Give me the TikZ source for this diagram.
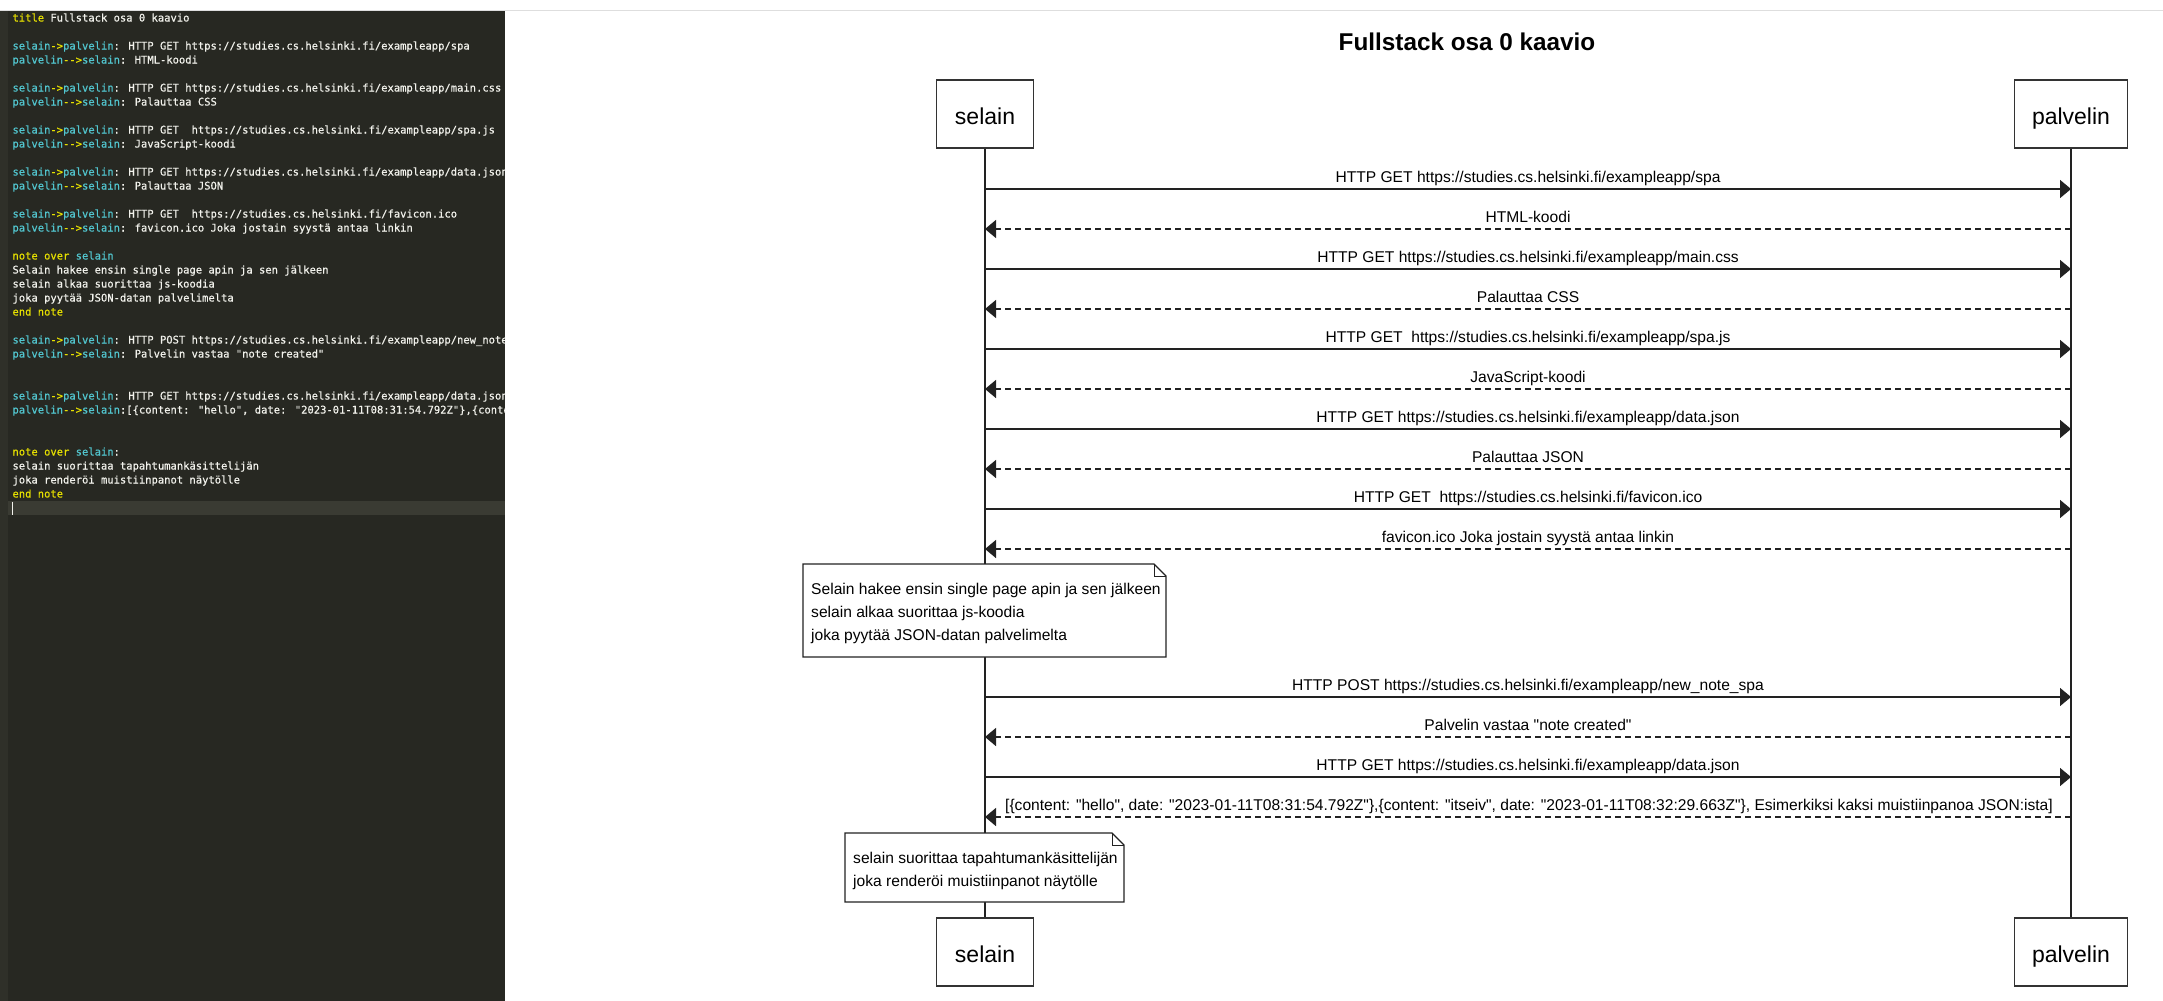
\documentclass[tikz,border=0pt]{standalone}
\usepackage{fontspec}
\setmainfont{Liberation Sans}[Ligatures=ResetAll]
\newfontfamily\diagfont{Liberation Sans}[Ligatures=ResetAll]
\newfontfamily\codefont{DejaVu Sans Mono}[Ligatures=ResetAll, FakeBold=0.5]
\usetikzlibrary{arrows.meta}
\definecolor{edbg}{HTML}{272822}
\definecolor{edgut}{HTML}{2F3029}
\definecolor{edcur}{HTML}{3A3B33}
\definecolor{cyel}{HTML}{E6E000}
\definecolor{ccya}{HTML}{52C6CF}
\definecolor{ctext}{HTML}{F2F2EC}
\definecolor{linec}{HTML}{222222}
\definecolor{boxc}{HTML}{333333}
\newcommand{\kwy}[1]{\textcolor{cyel}{#1}}
\newcommand{\acc}[1]{\textcolor{ccya}{#1}}
\newcommand{\dq}{\symbol{"22}}
\tikzset{
  codeln/.style={anchor=base west, inner sep=0pt, text=ctext, font=\codefont\fontsize{10.5}{12}\selectfont},
  actor/.style={draw=boxc, line width=1.6pt, fill=white, minimum width=97pt, minimum height=68pt, inner sep=0pt, text height=20pt, text depth=0pt, font=\diagfont\fontsize{23}{27}\selectfont},
  life/.style={draw=linec, line width=1.1pt},
  msg/.style={draw=linec, line width=1.5pt, -{Triangle[length=11pt,width=18pt]}},
  reply/.style={msg, dash pattern=on 6pt off 4pt},
  lbl/.style={anchor=base, inner sep=0pt, font=\diagfont\fontsize{15.6}{18}\selectfont},
  noteln/.style={anchor=base west, inner sep=0pt, font=\diagfont\fontsize{15.6}{18}\selectfont},
  notebox/.style={draw=linec, line width=1.2pt, fill=white},
}
\begin{document}
\begin{tikzpicture}[x=1pt,y=-1pt]
\useasboundingbox (0,0) rectangle (2163,1001);
\fill[white] (0,0) rectangle (2163,1001);
% editor panel
\fill[edbg] (0,11) rectangle (505,1001);
\fill[edgut] (0,11) rectangle (8,1001);
\fill[edcur] (8,501) rectangle (505,515);
\draw[ctext, line width=0.8pt] (12.5,501.5) -- (12.5,514.5);
\draw[black!13, line width=1pt] (0,10.5) -- (2163,10.5);
\begin{scope}
\clip (0,11) rectangle (505,1001);
\node[codeln] (code1) at (12.3,21.5) {\kwy{title} Fullstack osa 0 kaavio};
\node[codeln] (code3) at (12.3,49.5) {\acc{selain}\kwy{->}\acc{palvelin}: HTTP GET https://studies.cs.helsinki.fi/exampleapp/spa};
\node[codeln] (code4) at (12.3,63.5) {\acc{palvelin}\kwy{-{}-{}>}\acc{selain}: HTML-koodi};
\node[codeln] (code6) at (12.3,91.5) {\acc{selain}\kwy{->}\acc{palvelin}: HTTP GET https://studies.cs.helsinki.fi/exampleapp/main.css};
\node[codeln] (code7) at (12.3,105.5) {\acc{palvelin}\kwy{-{}-{}>}\acc{selain}: Palauttaa CSS};
\node[codeln] (code9) at (12.3,133.5) {\acc{selain}\kwy{->}\acc{palvelin}: HTTP GET\ \ https://studies.cs.helsinki.fi/exampleapp/spa.js};
\node[codeln] (code10) at (12.3,147.5) {\acc{palvelin}\kwy{-{}-{}>}\acc{selain}: JavaScript-koodi};
\node[codeln] (code12) at (12.3,175.5) {\acc{selain}\kwy{->}\acc{palvelin}: HTTP GET https://studies.cs.helsinki.fi/exampleapp/data.json};
\node[codeln] (code13) at (12.3,189.5) {\acc{palvelin}\kwy{-{}-{}>}\acc{selain}: Palauttaa JSON};
\node[codeln] (code15) at (12.3,217.5) {\acc{selain}\kwy{->}\acc{palvelin}: HTTP GET\ \ https://studies.cs.helsinki.fi/favicon.ico};
\node[codeln] (code16) at (12.3,231.5) {\acc{palvelin}\kwy{-{}-{}>}\acc{selain}: favicon.ico Joka jostain syystä antaa linkin};
\node[codeln] (code18) at (12.3,259.5) {\kwy{note over} \acc{selain}};
\node[codeln] (code19) at (12.3,273.5) {Selain hakee ensin single page apin ja sen jälkeen};
\node[codeln] (code20) at (12.3,287.5) {selain alkaa suorittaa js-koodia};
\node[codeln] (code21) at (12.3,301.5) {joka pyytää JSON-datan palvelimelta};
\node[codeln] (code22) at (12.3,315.5) {\kwy{end note}};
\node[codeln] (code24) at (12.3,343.5) {\acc{selain}\kwy{->}\acc{palvelin}: HTTP POST https://studies.cs.helsinki.fi/exampleapp/new\_note\_spa};
\node[codeln] (code25) at (12.3,357.5) {\acc{palvelin}\kwy{-{}-{}>}\acc{selain}: Palvelin vastaa \dq note created\dq};
\node[codeln] (code28) at (12.3,399.5) {\acc{selain}\kwy{->}\acc{palvelin}: HTTP GET https://studies.cs.helsinki.fi/exampleapp/data.json};
\node[codeln] (code29) at (12.3,413.5) {\acc{palvelin}\kwy{-{}-{}>}\acc{selain}:[\{content: \dq hello\dq, date: \dq 2023-01-11T08:31:54.792Z\dq\},\{content: \dq itseiv\dq, date: \dq 2023-01-11T08:32:29.663Z\dq\}, Esimerkiksi kaksi muistiinpanoa JSON:ista]};
\node[codeln] (code32) at (12.3,455.5) {\kwy{note over} \acc{selain}:};
\node[codeln] (code33) at (12.3,469.5) {selain suorittaa tapahtumankäsittelijän};
\node[codeln] (code34) at (12.3,483.5) {joka renderöi muistiinpanot näytölle};
\node[codeln] (code35) at (12.3,497.5) {\kwy{end note}};
\end{scope}
% title
\node[anchor=base, inner sep=0pt, font=\diagfont\bfseries\fontsize{24.3}{28}\selectfont] (title) at (1467,50) {Fullstack osa 0 kaavio};
% actors
\node[actor] (sTop) at (985,114) {selain};
\node[actor, minimum width=113pt] (pTop) at (2071,114) {palvelin};
\node[actor] (sBot) at (985,952) {selain};
\node[actor, minimum width=113pt] (pBot) at (2071,952) {palvelin};
\draw[life] (sTop.south) -- (sBot.north);
\draw[life] (pTop.south) -- (pBot.north);
% message end points
\foreach \i/\y in {1/189,2/229,3/269,4/309,5/349,6/389,7/429,8/469,9/509,10/549,11/697,12/737,13/777,14/817}{
  \coordinate (s\i) at (985,\y);
  \coordinate (p\i) at (2071,\y);
}
\draw[msg] (s1) -- (p1);
\node[lbl] (m1) at (1528,182.5) {HTTP GET https://studies.cs.helsinki.fi/exampleapp/spa};
\draw[reply] (p2) -- (s2);
\node[lbl] (m2) at (1528,222.5) {HTML-koodi};
\draw[msg] (s3) -- (p3);
\node[lbl] (m3) at (1528,262.5) {HTTP GET https://studies.cs.helsinki.fi/exampleapp/main.css};
\draw[reply] (p4) -- (s4);
\node[lbl] (m4) at (1528,302.5) {Palauttaa CSS};
\draw[msg] (s5) -- (p5);
\node[lbl] (m5) at (1528,342.5) {HTTP GET\ \ https://studies.cs.helsinki.fi/exampleapp/spa.js};
\draw[reply] (p6) -- (s6);
\node[lbl] (m6) at (1528,382.5) {JavaScript-koodi};
\draw[msg] (s7) -- (p7);
\node[lbl] (m7) at (1528,422.5) {HTTP GET https://studies.cs.helsinki.fi/exampleapp/data.json};
\draw[reply] (p8) -- (s8);
\node[lbl] (m8) at (1528,462.5) {Palauttaa JSON};
\draw[msg] (s9) -- (p9);
\node[lbl] (m9) at (1528,502.5) {HTTP GET\ \ https://studies.cs.helsinki.fi/favicon.ico};
\draw[reply] (p10) -- (s10);
\node[lbl] (m10) at (1528,542.5) {favicon.ico Joka jostain syystä antaa linkin};
% note 1
\draw[notebox] (803,564) -- (1154,564) -- (1166,576) -- (1166,657) -- (803,657) -- cycle;
\draw[linec, line width=0.8pt] (1154,564) -- (1154,576) -- (1166,576);
\node[noteln] (n1a) at (811,594.5) {Selain hakee ensin single page apin ja sen jälkeen};
\node[noteln] (n1b) at (811,617.5) {selain alkaa suorittaa js-koodia};
\node[noteln] (n1c) at (811,640.5) {joka pyytää JSON-datan palvelimelta};
\draw[msg] (s11) -- (p11);
\node[lbl] (m11) at (1528,690.5) {HTTP POST https://studies.cs.helsinki.fi/exampleapp/new\_note\_spa};
\draw[reply] (p12) -- (s12);
\node[lbl] (m12) at (1528,730.5) {Palvelin vastaa \dq note created\dq};
\draw[msg] (s13) -- (p13);
\node[lbl] (m13) at (1528,770.5) {HTTP GET https://studies.cs.helsinki.fi/exampleapp/data.json};
\draw[reply] (p14) -- (s14);
\node[lbl] (m14) at (1529,810.5) {[\{content: \dq hello\dq, date: \dq 2023-01-11T08:31:54.792Z\dq\},\{content: \dq itseiv\dq, date: \dq 2023-01-11T08:32:29.663Z\dq\}, Esimerkiksi kaksi muistiinpanoa JSON:ista]};
% note 2
\draw[notebox] (845,833) -- (1112,833) -- (1124,845) -- (1124,902) -- (845,902) -- cycle;
\draw[linec, line width=0.8pt] (1112,833) -- (1112,845) -- (1124,845);
\node[noteln] (n2a) at (853,863.5) {selain suorittaa tapahtumankäsittelijän};
\node[noteln] (n2b) at (853,886.5) {joka renderöi muistiinpanot näytölle};
\end{tikzpicture}
\end{document}
